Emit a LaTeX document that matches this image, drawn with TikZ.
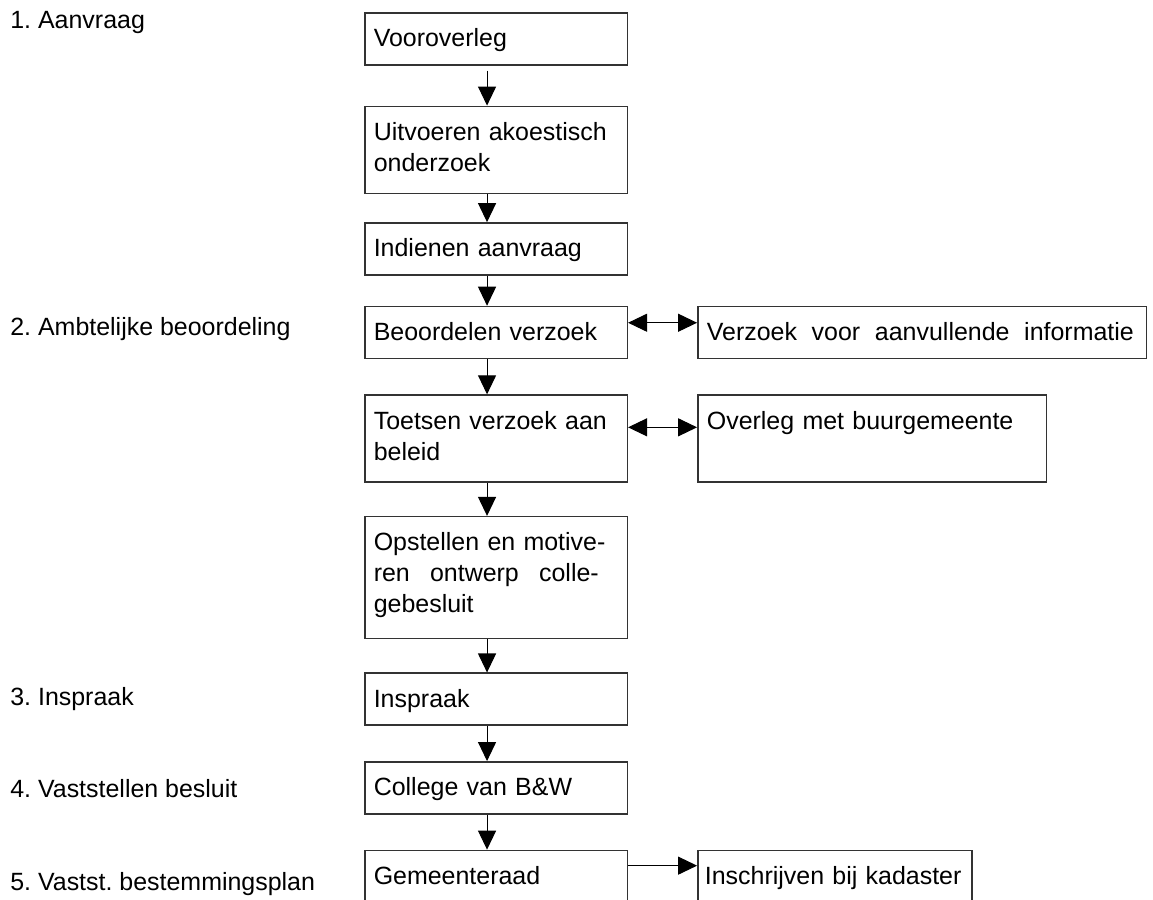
\documentclass[tikz,border=0pt]{standalone}
\usepackage{fontspec}
\setmainfont{Liberation Sans}
\usetikzlibrary{arrows.meta,positioning}
\newcommand{\uitvul}[2][4.66cm]{\leavevmode\hbox to #1{#2}}
\tikzset{
  stap/.style={draw=black!80, line width=0.9pt, text width=4.89cm, inner xsep=0.18cm, inner ysep=0pt, align=left, text height=0.68cm, text depth=0.36cm, font=\fontsize{14.2}{17.6}\selectfont},
  stap2/.style={stap, text depth=1.06cm},
  stap3/.style={stap, text depth=1.76cm},
  fase/.style={anchor=base west, inner sep=0pt, font=\fontsize{14.2}{17.6}\selectfont},
  pijl/.style={-{Triangle[length=0.38cm,width=0.36cm]}, line width=0.6pt},
  dubbel/.style={{Triangle[length=0.38cm,width=0.36cm]}-{Triangle[length=0.38cm,width=0.36cm]}, line width=0.6pt}
}
\begin{document}
\frenchspacing
\begin{tikzpicture}
\useasboundingbox (0,0) rectangle (23.06,-17.98);
\node[stap, anchor=north west] (voor) at (7.28,-0.24) {Vooroverleg};
\node[stap2, below=0.80cm of voor] (akoest) {\uitvul{Uitvoeren\hfill akoestisch}\\onderzoek};
\node[stap, below=0.56cm of akoest] (indienen) {Indienen aanvraag};
\node[stap, below=0.60cm of indienen] (beoordelen) {Beoordelen verzoek};
\node[stap2, below=0.70cm of beoordelen] (toetsen) {\uitvul{Toetsen\hfill verzoek\hfill aan}\\beleid};
\node[stap3, below=0.66cm of toetsen] (opstellen) {\uitvul[4.5cm]{Opstellen en motive-}\\\uitvul[4.5cm]{ren\hfill ontwerp\hfill colle-}\\gebesluit};
\node[stap, below=0.66cm of opstellen] (inspraak) {Inspraak};
\node[stap, below=0.70cm of inspraak] (college) {College van B\&W};
\node[stap, below=0.70cm of college] (raad) {Gemeenteraad};
\node[stap, text width=8.61cm, right=1.38cm of beoordelen] (informatie) {\uitvul[8.54cm]{Verzoek\hfill voor\hfill aanvullende\hfill informatie}};
\node[stap2, text width=6.61cm, right=1.38cm of toetsen] (buurgemeente) {Overleg met buurgemeente};
\node[stap, text width=5.2cm, inner xsep=0.14cm, right=1.38cm of raad] (kadaster) {Inschrijven bij kadaster};
\node[fase] (fase1) at (0.2,-0.56) {1. Aanvraag};
\node[fase] (fase2) at (0.2,-6.70) {2. Ambtelijke beoordeling};
\node[fase] (fase3) at (0.2,-14.10) {3. Inspraak};
\node[fase] (fase4) at (0.2,-15.94) {4. Vaststellen besluit};
\node[fase] (fase5) at (0.2,-17.80) {5. Vastst. bestemmingsplan};
\draw[pijl] ([xshift=-0.18cm,yshift=-0.1cm]voor.south) -- ([xshift=-0.18cm]akoest.north);
\draw[pijl] ([xshift=-0.18cm]akoest.south) -- ([xshift=-0.18cm]indienen.north);
\draw[pijl] ([xshift=-0.18cm]indienen.south) -- ([xshift=-0.18cm]beoordelen.north);
\draw[pijl] ([xshift=-0.18cm]beoordelen.south) -- ([xshift=-0.18cm]toetsen.north);
\draw[pijl] ([xshift=-0.18cm]toetsen.south) -- ([xshift=-0.18cm]opstellen.north);
\draw[pijl] ([xshift=-0.18cm]opstellen.south) -- ([xshift=-0.18cm]inspraak.north);
\draw[pijl] ([xshift=-0.18cm]inspraak.south) -- ([xshift=-0.18cm]college.north);
\draw[pijl] ([xshift=-0.18cm]college.south) -- ([xshift=-0.18cm]raad.north);
\draw[dubbel] ([yshift=-0.34cm]beoordelen.north east) -- ([yshift=-0.34cm]informatie.north west);
\draw[dubbel] ([yshift=-0.66cm]toetsen.north east) -- ([yshift=-0.66cm]buurgemeente.north west);
\draw[pijl] ([yshift=-0.32cm]raad.north east) -- ([yshift=-0.32cm]kadaster.north west);
\end{tikzpicture}
\end{document}
